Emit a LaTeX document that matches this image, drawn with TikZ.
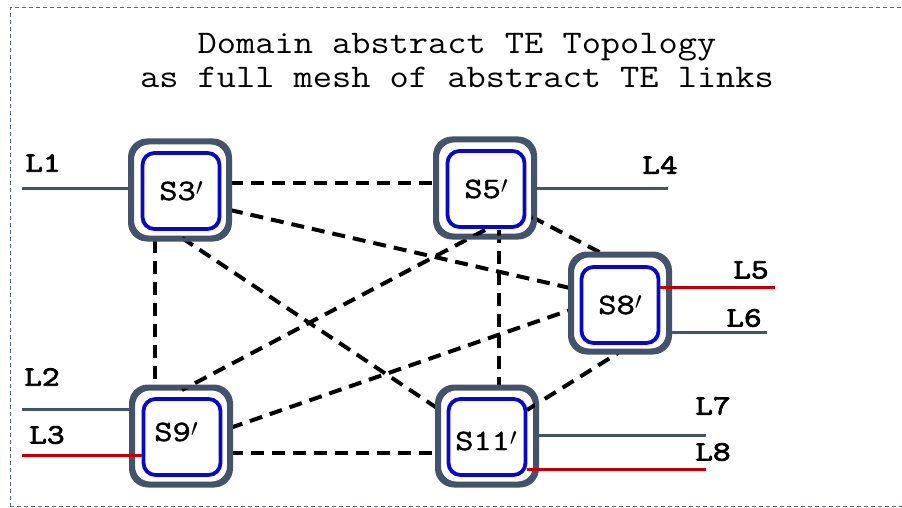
\documentclass[tikz,border=0pt]{standalone}
\usepackage{fontspec}
\newfontfamily\cour{Latin Modern Mono}[FakeStretch=1.13]
\newfontfamily\courb{Latin Modern Mono}[FakeStretch=1.22, FakeBold=3]
\newfontfamily\courm{Latin Modern Mono}[FakeStretch=1.2, FakeBold=1.5]
\usetikzlibrary{calc}
\definecolor{slate}{HTML}{44536B}
\definecolor{boxblue}{HTML}{0808C8}
\definecolor{linkred}{HTML}{C00000}
\definecolor{frame}{HTML}{56657A}
\newcommand{\pr}{\raisebox{0.15em}{$\prime$}}
\tikzset{
  outerbox/.style={draw=slate, line width=4pt, rounded corners=17pt, minimum width=96pt, minimum height=95pt, fill=white, inner sep=0pt},
  slabel/.style={font=\courm\fontsize{29.5}{29.5}\selectfont, inner sep=0pt},
  innerbox/.style={draw=boxblue, line width=3.8pt, rounded corners=12pt, minimum width=77pt, minimum height=76pt, inner sep=0pt, slabel},
  mesh/.style={line width=4pt, dash pattern=on 13pt off 8pt, black},
  access/.style={line width=3pt, slate},
  accred/.style={line width=3pt, linkred},
  llabel/.style={font=\courb\fontsize{28}{28}\selectfont, inner sep=0pt},
  title/.style={font=\cour\fontsize{33}{34}\selectfont, align=center, inner sep=0pt}
}
\begin{document}
\begin{tikzpicture}[x=1pt,y=-1pt]
\useasboundingbox (0,0) rectangle (902,508);
\draw[frame, line width=1pt, dash pattern=on 4pt off 3pt] (10,507) -- (10,8) -- (902,8);
\draw[frame, line width=1pt, dash pattern=on 4pt off 3pt] (10,506) -- (902,506);

\node[title] (t) at (457,61) {Domain abstract TE Topology\\as full mesh of abstract TE links};

% outer boxes
\node[outerbox] (s3) at (180,190) {};
\node[outerbox] (s5) at (485,188) {};
\node[outerbox] (s8) at (620,303) {};
\node[outerbox] (s9) at (181,436) {};
\node[outerbox] (s11) at (487,436) {};

% mesh links
\draw[mesh] ($(s3)+(50,-7)$) -- ($(s5)+(-48,-5)$);
\draw[mesh] ($(s3)+(-25,50)$) -- ($(s9)+(-26,-48)$);
\draw[mesh] ($(s3)+(50,20)$) -- ($(s8)+(-50,-15)$);
\draw[mesh] ($(s3)+(2,48)$) -- ($(s11)+(-50,-28)$);
\draw[mesh] ($(s5)+(0,42)$) -- ($(s9)+(1,-46)$);
\draw[mesh] ($(s5)+(14,42)$) -- ($(s11)+(12,-49)$);
\draw[mesh] ($(s5)+(47,29)$) -- ($(s8)+(-15,-48)$);
\draw[mesh] ($(s9)+(49,-8)$) -- ($(s8)+(-50,7)$);
\draw[mesh] ($(s9)+(49,17)$) -- ($(s11)+(-50,17)$);
\draw[mesh] ($(s11)+(40,-26)$) -- ($(s8)+(-2,50)$);

% redraw outer boxes over link ends
\foreach \n in {s3,s5,s8,s9,s11}{
  \draw[draw=slate, line width=4pt, rounded corners=17pt] (\n.south west) rectangle (\n.north east);
}

% inner boxes with labels
\node[innerbox, fill=white] (s3i) at ($(s3)+(1,1)$) {S3\pr};
\node[innerbox, fill=white] (s5i) at ($(s5)+(1,1)$) {S5\pr};
\node[innerbox, fill=white] (s8i) at ($(s8)+(0,2)$) {S8\pr};
\node[innerbox, fill=white] (s9i) at ($(s9)+(1,1)$) {};
\node[innerbox, fill=white] (s11i) at ($(s11)+(0,1)$) {};
\node[slabel] (s9t) at ($(s9)+(-5,-4)$) {S9\pr};
\node[slabel] (s11t) at ($(s11)+(-1,5)$) {S11\pr};

% access links
\coordinate (e1) at (22,188);
\coordinate (e4) at (668,188);
\coordinate (e5) at (775,287);
\coordinate (e6) at (767,332);
\coordinate (e2) at (22,409);
\coordinate (e3) at (22,455);
\coordinate (e7) at (706,435);
\coordinate (e8) at (706,469);
\draw[access] (e1) -- (s3.west |- e1);
\draw[access] (s5.east |- e4) -- (e4);
\draw[accred] (s8i.east |- e5) -- (e5);
\draw[access] (s8.east |- e6) -- (e6);
\draw[access] (e2) -- (s9.west |- e2);
\draw[accred] (e3) -- (s9i.west |- e3);
\draw[access] (s11.east |- e7) -- (e7);
\draw[accred] (s11i.east |- e8) -- (e8);

% labels
\node[llabel] (l1) at (43,163) {L1};
\node[llabel] (l4) at (660,165) {L4};
\node[llabel] (l5) at (751,270) {L5};
\node[llabel] (l6) at (744,318) {L6};
\node[llabel] (l2) at (42,377) {L2};
\node[llabel] (l3) at (47,435) {L3};
\node[llabel] (l7) at (713,406) {L7};
\node[llabel] (l8) at (713,452) {L8};
\end{tikzpicture}
\end{document}
